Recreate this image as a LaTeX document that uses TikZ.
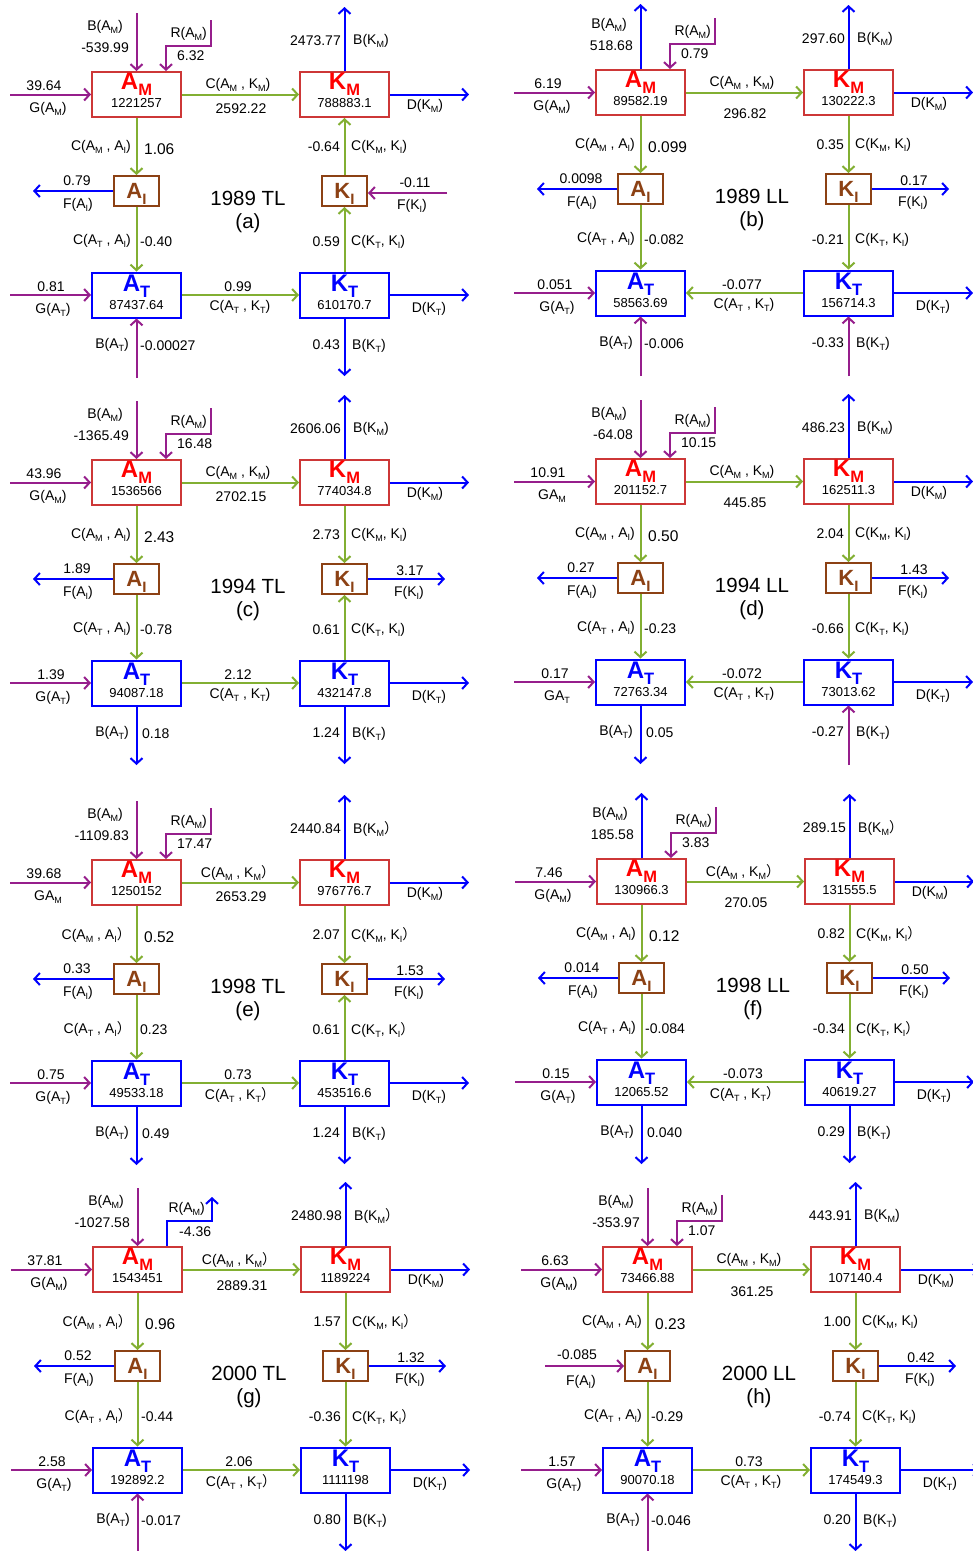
\documentclass[tikz,border=0pt]{standalone}
\usepackage{fontspec}
\setmainfont{Liberation Sans}
\newfontfamily\cjk{Noto Sans CJK SC}
\usetikzlibrary{arrows.meta}
\definecolor{cpur}{RGB}{150,30,140}
\definecolor{cblu}{RGB}{0,0,255}
\definecolor{cgrn}{RGB}{130,175,50}
\definecolor{cred}{RGB}{255,0,0}
\definecolor{credb}{RGB}{205,55,55}
\definecolor{cbrn}{RGB}{140,65,20}
\newcommand\ssub[1]{\raisebox{-3pt}{\fontsize{9}{9}\selectfont #1}}
\newcommand\fp{{\cjk ）}}
\newcommand\BL[2]{\fontsize{24}{24}\selectfont\bfseries #1\raisebox{-6pt}{\fontsize{16.5}{16.5}\selectfont #2}}
\newcommand\SL[2]{\fontsize{22}{22}\selectfont\bfseries #1\raisebox{-6pt}{\fontsize{15}{15}\selectfont #2}}
\tikzset{
 lab/.style={font=\fontsize{14}{15}\selectfont, inner sep=0pt},
 labL/.style={font=\fontsize{15.5}{16}\selectfont, inner sep=0pt},
 ttl/.style={font=\fontsize{20.5}{22}\selectfont, inner sep=0pt},
 numf/.style={font=\fontsize{13}{13}\selectfont, inner sep=0pt, anchor=base},
 letf/.style={inner sep=0pt, anchor=base},
 bigbox/.style={draw, line width=2pt, minimum width=89pt, minimum height=45pt, inner sep=0pt},
 smbox/.style={draw, line width=2pt, minimum width=45pt, minimum height=30pt, inner sep=0pt},
 fl/.style={line width=2pt, -{Straight Barb[length=5.5pt,width=12pt]}},
 pin/.style={fl, draw=cpur},
 pout/.style={fl, draw=cblu},
 cf/.style={fl, draw=cgrn},
}
% boxes: prefix, AM, KM, AT, KT
\newcommand\Boxes[5]{%
 \node[bigbox, draw=credb] (#1-AM) at (136.5,94.5) {};
 \node[bigbox, draw=credb] (#1-KM) at (344.5,94.5) {};
 \node[smbox, draw=cbrn] (#1-AI) at (136.5,191) {};
 \node[smbox, draw=cbrn] (#1-KI) at (344.5,191) {};
 \node[bigbox, draw=cblu] (#1-AT) at (136.5,295) {};
 \node[bigbox, draw=cblu] (#1-KT) at (344.5,295) {};
 \node[letf, text=cred] (#1-AMl) at ([yshift=5pt]#1-AM.center) {\BL{A}{M}};
 \node[letf, text=cred] (#1-KMl) at ([yshift=5pt]#1-KM.center) {\BL{K}{M}};
 \node[letf, text=cbrn] (#1-AIl) at ([yshift=-7.6pt]#1-AI.center) {\SL{A}{I}};
 \node[letf, text=cbrn] (#1-KIl) at ([yshift=-7.6pt]#1-KI.center) {\SL{K}{I}};
 \node[letf, text=cblu] (#1-ATl) at ([yshift=4pt]#1-AT.center) {\BL{A}{T}};
 \node[letf, text=cblu] (#1-KTl) at ([yshift=4pt]#1-KT.center) {\BL{K}{T}};
 \node[numf] (#1-AMn) at ([yshift=-13pt]#1-AM.center) {#2};
 \node[numf] (#1-KMn) at ([yshift=-13pt]#1-KM.center) {#3};
 \node[numf] (#1-ATn) at ([yshift=-14.5pt]#1-AT.center) {#4};
 \node[numf] (#1-KTn) at ([yshift=-14.5pt]#1-KT.center) {#5};
}
\newcommand\GAM[3]{\coordinate (#1-gam) at (10,94.5);
 \draw[pin] (#1-gam) -- (#1-AM.west);
 \node[lab] (#1-gamv) at (44,86) {#2};
 \node[lab] (#1-gaml) at (48,109) {#3};}
\newcommand\BAMlab[2]{\node[lab] (#1-baml) at (105,27) {B(A\ssub{M})};
 \node[lab, anchor=east] (#1-bamv) at (129,48) {#2};}
\newcommand\BAMin[2]{\coordinate (#1-bam) at (136.5,13);
 \draw[pin] (#1-bam) -- (#1-AM.north); \BAMlab{#1}{#2}}
\newcommand\BAMout[2]{\coordinate (#1-bam) at (136.5,6);
 \draw[pout] (#1-AM.north) -- (#1-bam); \BAMlab{#1}{#2}}
\newcommand\RAMin[2]{\coordinate (#1-r1) at (211,20); \coordinate (#1-r2) at (211,46); \coordinate (#1-r3) at (166,46);
 \draw[pin] (#1-r1) -- (#1-r2) -- (#1-r3) -- (#1-r3 |- #1-AM.north);
 \node[lab, anchor=east] (#1-raml) at (207,34) {R(A\ssub{M})};
 \node[lab, anchor=west] (#1-ramv) at (177,56) {#2};}
\newcommand\RAMout[2]{\coordinate (#1-r1) at (211,22); \coordinate (#1-r2) at (211,46); \coordinate (#1-r3) at (166,46);
 \draw[pout] (#1-r3 |- #1-AM.north) -- (#1-r3) -- (#1-r2) -- (#1-r1);
 \node[lab, anchor=east] (#1-raml) at (204,34) {R(A\ssub{M})};
 \node[lab, anchor=west] (#1-ramv) at (178,57) {#2};}
\newcommand\CAMKM[4]{\draw[cf] (#1-AM.east) -- (#1-KM.west);
 \node[lab] (#1-camkml) at (238,85) {#2};
 \node[lab] (#1-camkmv) at (241,#4) {#3};}
\newcommand\BKM[3]{\coordinate (#1-bkm) at (344.5,7);
 \draw[pout] (#1-KM.north) -- (#1-bkm);
 \node[lab, anchor=east] (#1-bkmv) at (341,41) {#2};
 \node[lab, anchor=west] (#1-bkml) at (353,41) {#3};}
\newcommand\DKM[1]{\coordinate (#1-dkm) at (469,94.5);
 \draw[pout] (#1-KM.east) -- (#1-dkm);
 \node[lab] (#1-dkml) at (425,106) {D(K\ssub{M})};}
\newcommand\CAMAI[3]{\draw[cf] (#1-AM.south) -- (#1-AI.north);
 \node[lab, anchor=east] (#1-camail) at (131,147) {#2};
 \node[labL, anchor=west] (#1-camaiv) at (144,149) {#3};}
\newcommand\FAIout[2]{\coordinate (#1-fai) at (33,191);
 \draw[pout] (#1-AI.west) -- (#1-fai);
 \node[lab] (#1-faiv) at (77,181) {#2};
 \node[lab] (#1-fail) at (78,205) {F(A\ssub{I})};}
\newcommand\FAIin[2]{\coordinate (#1-fai) at (34,191);
 \draw[pin] (#1-fai) -- (#1-AI.west);
 \node[lab] (#1-faiv) at (66,180) {#2};
 \node[lab] (#1-fail) at (70,207) {F(A\ssub{I})};}
\newcommand\FKIout[2]{\coordinate (#1-fki) at (445,191);
 \draw[pout] (#1-KI.east) -- (#1-fki);
 \node[lab] (#1-fkiv) at (410,183) {#2};
 \node[lab] (#1-fkil) at (409,205) {F(K\ssub{I})};}
\newcommand\FKIin[2]{\coordinate (#1-fki) at (447,193);
 \draw[pin] (#1-fki) -- (#1-fki -| #1-KI.east);
 \node[lab] (#1-fkiv) at (415,183) {#2};
 \node[lab] (#1-fkil) at (412,206) {F(K\ssub{I})};}
\newcommand\CKMKIlab[3]{\node[lab, anchor=east] (#1-ckmkiv) at (340,147) {#2};
 \node[lab, anchor=west] (#1-ckmkil) at (351,147) {#3};}
\newcommand\CKMKIdown[3]{\draw[cf] (#1-KM.south) -- (#1-KI.north); \CKMKIlab{#1}{#2}{#3}}
\newcommand\CKMKIup[3]{\draw[cf] (#1-KI.north) -- (#1-KM.south); \CKMKIlab{#1}{#2}{#3}}
\newcommand\Title[3]{\node[ttl] (#1-t1) at (248,198) {#2}; \node[ttl] (#1-t2) at (248,223) {#3};}
\newcommand\CATAI[3]{\draw[cf] (#1-AI.south) -- (#1-AT.north);
 \node[lab, anchor=east] (#1-catail) at (131,241) {#2};
 \node[lab, anchor=west] (#1-cataiv) at (140,242) {#3};}
\newcommand\CKTKIlab[3]{\node[lab, anchor=east] (#1-cktkiv) at (340,242) {#2};
 \node[lab, anchor=west] (#1-cktkil) at (351,242) {#3};}
\newcommand\CKTKIup[3]{\draw[cf] (#1-KT.north) -- (#1-KI.south); \CKTKIlab{#1}{#2}{#3}}
\newcommand\CKTKIdown[3]{\draw[cf] (#1-KI.south) -- (#1-KT.north); \CKTKIlab{#1}{#2}{#3}}
\newcommand\GAT[3]{\coordinate (#1-gat) at (10,295);
 \draw[pin] (#1-gat) -- (#1-AT.west);
 \node[lab] (#1-gatv) at (51,287) {#2};
 \node[lab] (#1-gatl) at (53,310) {#3};}
\newcommand\CATKTlab[3]{\node[lab] (#1-catktv) at (238,287) {#2};
 \node[lab] (#1-catktl) at (240,307) {#3};}
\newcommand\CATKTr[3]{\draw[cf] (#1-AT.east) -- (#1-KT.west); \CATKTlab{#1}{#2}{#3}}
\newcommand\CATKTl[3]{\draw[cf] (#1-KT.west) -- (#1-AT.east); \CATKTlab{#1}{#2}{#3}}
\newcommand\DKT[1]{\coordinate (#1-dkt) at (469,295);
 \draw[pout] (#1-KT.east) -- (#1-dkt);
 \node[lab] (#1-dktl) at (429,309) {D(K\ssub{T})};}
\newcommand\BATin[2]{\coordinate (#1-bat) at (136.5,378);
 \draw[pin] (#1-bat) -- (#1-AT.south);
 \node[lab, anchor=east] (#1-batl) at (129,345) {B(A\ssub{T})};
 \node[lab, anchor=west] (#1-batv) at (140,346) {#2};}
\newcommand\BATout[2]{\coordinate (#1-bat) at (136.5,377);
 \draw[pout] (#1-AT.south) -- (#1-bat);
 \node[lab, anchor=east] (#1-batl) at (129,345) {B(A\ssub{T})};
 \node[lab, anchor=west] (#1-batv) at (142,346) {#2};}
\newcommand\BKTlab[2]{\node[lab, anchor=east] (#1-bktv) at (340,345) {#2};
 \node[lab, anchor=west] (#1-bktl) at (352,346) {B(K\ssub{T})};}
\newcommand\BKTout[2]{\coordinate (#1-bkt) at (344.5,376);
 \draw[pout] (#1-KT.south) -- (#1-bkt); \BKTlab{#1}{#2}}
\newcommand\BKTin[2]{\coordinate (#1-bkt) at (344.5,378);
 \draw[pin] (#1-bkt) -- (#1-KT.south); \BKTlab{#1}{#2}}

\begin{document}
\begin{tikzpicture}[x=1pt,y=-1pt]
\path[use as bounding box, fill=white] (0,0) rectangle (973,1551);
% ---------- (a)
\begin{scope}[shift={(0,0)}]
\Boxes{a}{1221257}{788883.1}{87437.64}{610170.7}
\GAM{a}{39.64}{G(A\ssub{M})}
\BAMin{a}{-539.99}
\RAMin{a}{6.32}
\CAMKM{a}{C(A\ssub{M} , K\ssub{M})}{2592.22}{109}
\BKM{a}{2473.77}{B(K\ssub{M})}
\DKM{a}
\CAMAI{a}{C(A\ssub{M} , A\ssub{I})}{1.06}
\FAIout{a}{0.79}
\FKIin{a}{-0.11}
\CKMKIup{a}{-0.64}{C(K\ssub{M}, K\ssub{I})}
\Title{a}{1989 TL}{(a)}
\CATAI{a}{C(A\ssub{T} , A\ssub{I})}{-0.40}
\CKTKIup{a}{0.59}{C(K\ssub{T}, K\ssub{I})}
\GAT{a}{0.81}{G(A\ssub{T})}
\CATKTr{a}{0.99}{C(A\ssub{T} , K\ssub{T})}
\DKT{a}
\BATin{a}{-0.00027}
\BKTout{a}{0.43}
\end{scope}
% ---------- (b)
\begin{scope}[shift={(504,-2)}]
\Boxes{b}{89582.19}{130222.3}{58563.69}{156714.3}
\GAM{b}{6.19}{G(A\ssub{M})}
\BAMout{b}{518.68}
\RAMin{b}{0.79}
\CAMKM{b}{C(A\ssub{M} , K\ssub{M})}{296.82}{116}
\BKM{b}{297.60}{B(K\ssub{M})}
\DKM{b}
\CAMAI{b}{C(A\ssub{M} , A\ssub{I})}{0.099}
\FAIout{b}{0.0098}
\FKIout{b}{0.17}
\CKMKIdown{b}{0.35}{C(K\ssub{M}, K\ssub{I})}
\Title{b}{1989 LL}{(b)}
\CATAI{b}{C(A\ssub{T} , A\ssub{I})}{-0.082}
\CKTKIdown{b}{-0.21}{C(K\ssub{T}, K\ssub{I})}
\GAT{b}{0.051}{G(A\ssub{T})}
\CATKTl{b}{-0.077}{C(A\ssub{T} , K\ssub{T})}
\DKT{b}
\BATin{b}{-0.006}
\BKTin{b}{-0.33}
\end{scope}
% ---------- (c)
\begin{scope}[shift={(0,388)}]
\Boxes{c}{1536566}{774034.8}{94087.18}{432147.8}
\GAM{c}{43.96}{G(A\ssub{M})}
\BAMin{c}{-1365.49}
\RAMin{c}{16.48}
\CAMKM{c}{C(A\ssub{M} , K\ssub{M})}{2702.15}{109}
\BKM{c}{2606.06}{B(K\ssub{M})}
\DKM{c}
\CAMAI{c}{C(A\ssub{M} , A\ssub{I})}{2.43}
\FAIout{c}{1.89}
\FKIout{c}{3.17}
\CKMKIdown{c}{2.73}{C(K\ssub{M}, K\ssub{I})}
\Title{c}{1994 TL}{(c)}
\CATAI{c}{C(A\ssub{T} , A\ssub{I})}{-0.78}
\CKTKIup{c}{0.61}{C(K\ssub{T}, K\ssub{I})}
\GAT{c}{1.39}{G(A\ssub{T})}
\CATKTr{c}{2.12}{C(A\ssub{T} , K\ssub{T})}
\DKT{c}
\BATout{c}{0.18}
\BKTout{c}{1.24}
\end{scope}
% ---------- (d)
\begin{scope}[shift={(504,387)}]
\Boxes{d}{201152.7}{162511.3}{72763.34}{73013.62}
\GAM{d}{10.91}{GA\ssub{M}}
\BAMin{d}{-64.08}
\RAMin{d}{10.15}
\CAMKM{d}{C(A\ssub{M} , K\ssub{M})}{445.85}{116}
\BKM{d}{486.23}{B(K\ssub{M})}
\DKM{d}
\CAMAI{d}{C(A\ssub{M} , A\ssub{I})}{0.50}
\FAIout{d}{0.27}
\FKIout{d}{1.43}
\CKMKIdown{d}{2.04}{C(K\ssub{M}, K\ssub{I})}
\Title{d}{1994 LL}{(d)}
\CATAI{d}{C(A\ssub{T} , A\ssub{I})}{-0.23}
\CKTKIdown{d}{-0.66}{C(K\ssub{T}, K\ssub{I})}
\GAT{d}{0.17}{GA\ssub{T}}
\CATKTl{d}{-0.072}{C(A\ssub{T} , K\ssub{T})}
\DKT{d}
\BATout{d}{0.05}
\BKTin{d}{-0.27}
\end{scope}
% ---------- (e)
\begin{scope}[shift={(0,788)}]
\Boxes{e}{1250152}{976776.7}{49533.18}{453516.6}
\GAM{e}{39.68}{GA\ssub{M}}
\BAMin{e}{-1109.83}
\RAMin{e}{17.47}
\CAMKM{e}{C(A\ssub{M} , K\ssub{M}\fp}{2653.29}{109}
\BKM{e}{2440.84}{B(K\ssub{M}\fp}
\DKM{e}
\CAMAI{e}{C(A\ssub{M} , A\ssub{I}\fp}{0.52}
\FAIout{e}{0.33}
\FKIout{e}{1.53}
\CKMKIdown{e}{2.07}{C(K\ssub{M}, K\ssub{I}\fp}
\Title{e}{1998 TL}{(e)}
\CATAI{e}{C(A\ssub{T} , A\ssub{I}\fp}{0.23}
\CKTKIup{e}{0.61}{C(K\ssub{T}, K\ssub{I}\fp}
\GAT{e}{0.75}{G(A\ssub{T})}
\CATKTr{e}{0.73}{C(A\ssub{T} , K\ssub{T}\fp}
\DKT{e}
\BATout{e}{0.49}
\BKTout{e}{1.24}
\end{scope}
% ---------- (f)
\begin{scope}[shift={(505,787)}]
\Boxes{f}{130966.3}{131555.5}{12065.52}{40619.27}
\GAM{f}{7.46}{G(A\ssub{M})}
\BAMout{f}{185.58}
\RAMin{f}{3.83}
\CAMKM{f}{C(A\ssub{M} , K\ssub{M}\fp}{270.05}{116}
\BKM{f}{289.15}{B(K\ssub{M}\fp}
\DKM{f}
\CAMAI{f}{C(A\ssub{M} , A\ssub{I})}{0.12}
\FAIout{f}{0.014}
\FKIout{f}{0.50}
\CKMKIdown{f}{0.82}{C(K\ssub{M}, K\ssub{I}\fp}
\Title{f}{1998 LL}{(f)}
\CATAI{f}{C(A\ssub{T} , A\ssub{I})}{-0.084}
\CKTKIdown{f}{-0.34}{C(K\ssub{T}, K\ssub{I}\fp}
\GAT{f}{0.15}{G(A\ssub{T})}
\CATKTl{f}{-0.073}{C(A\ssub{T} , K\ssub{T}\fp}
\DKT{f}
\BATout{f}{0.040}
\BKTout{f}{0.29}
\end{scope}
% ---------- (g)
\begin{scope}[shift={(1,1175)}]
\Boxes{g}{1543451}{1189224}{192892.2}{1111198}
\GAM{g}{37.81}{G(A\ssub{M})}
\BAMin{g}{-1027.58}
\RAMout{g}{-4.36}
\CAMKM{g}{C(A\ssub{M} , K\ssub{M}\fp}{2889.31}{111}
\BKM{g}{2480.98}{B(K\ssub{M}\fp}
\DKM{g}
\CAMAI{g}{C(A\ssub{M} , A\ssub{I}\fp}{0.96}
\FAIout{g}{0.52}
\FKIout{g}{1.32}
\CKMKIdown{g}{1.57}{C(K\ssub{M}, K\ssub{I}\fp}
\Title{g}{2000 TL}{(g)}
\CATAI{g}{C(A\ssub{T} , A\ssub{I}\fp}{-0.44}
\CKTKIdown{g}{-0.36}{C(K\ssub{T}, K\ssub{I}\fp}
\GAT{g}{2.58}{G(A\ssub{T})}
\CATKTr{g}{2.06}{C(A\ssub{T} , K\ssub{T}\fp}
\DKT{g}
\BATin{g}{-0.017}
\BKTout{g}{0.80}
\end{scope}
% ---------- (h)
\begin{scope}[shift={(511,1175)}]
\Boxes{h}{73466.88}{107140.4}{90070.18}{174549.3}
\GAM{h}{6.63}{G(A\ssub{M})}
\BAMin{h}{-353.97}
\RAMin{h}{1.07}
\CAMKM{h}{C(A\ssub{M} , K\ssub{M})}{361.25}{117}
\BKM{h}{443.91}{B(K\ssub{M})}
\DKM{h}
\CAMAI{h}{C(A\ssub{M} , A\ssub{I})}{0.23}
\FAIin{h}{-0.085}
\FKIout{h}{0.42}
\CKMKIdown{h}{1.00}{C(K\ssub{M}, K\ssub{I})}
\Title{h}{2000 LL}{(h)}
\CATAI{h}{C(A\ssub{T} , A\ssub{I})}{-0.29}
\CKTKIdown{h}{-0.74}{C(K\ssub{T}, K\ssub{I})}
\GAT{h}{1.57}{G(A\ssub{T})}
\CATKTr{h}{0.73}{C(A\ssub{T} , K\ssub{T})}
\DKT{h}
\BATin{h}{-0.046}
\BKTout{h}{0.20}
\end{scope}
\end{tikzpicture}
\end{document}
